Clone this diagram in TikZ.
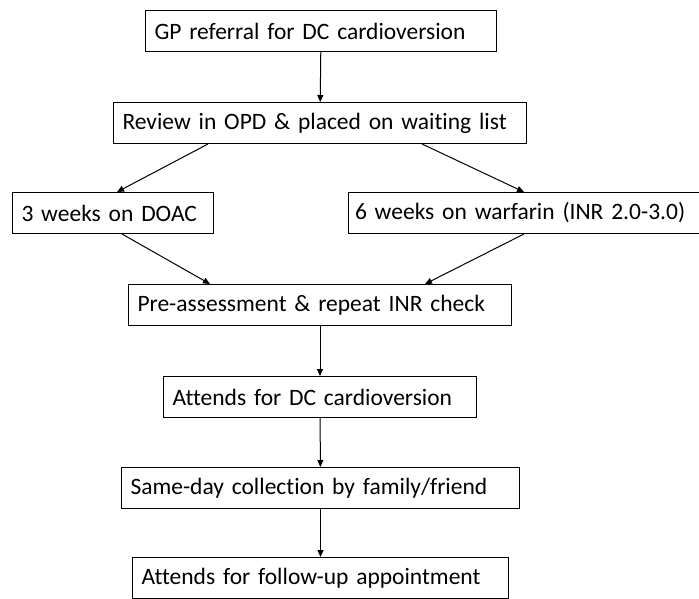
\documentclass[tikz,border=0pt]{standalone}
\usepackage{fontspec}
\setmainfont{Carlito}[Ligatures=NoCommon]
\usetikzlibrary{arrows.meta}
\tikzset{
	box/.style={draw, line width=1pt, anchor=west, align=left, inner xsep=9pt, inner ysep=2pt, minimum height=41pt, font=\fontsize{23.5}{28}\selectfont},
	arr/.style={line width=1pt, -{Triangle[length=7pt,width=6pt]}}
}
\begin{document}
			\begin{tikzpicture}[x=1pt,y=-1pt]
				\useasboundingbox (0,0) rectangle (699,599);
				\node[box, text width=333pt] (gp) at (145,31) {GP referral for DC cardioversion};
				\node[box, text width=395pt] (opd) at (113,123) {Review in OPD \& placed on waiting list};
				\node[box, text width=183pt] (doac) at (12,213) {3 weeks on DOAC};
				\node[box, text width=338pt, inner xsep=6.5pt] (warf) at (348,213) {6 weeks on warfarin (INR 2.0-3.0)};
				\node[box, text width=365pt] (pre) at (128,305) {Pre-assessment \& repeat INR check};
				\node[box, text width=295pt] (dc) at (163,397) {Attends for DC cardioversion};
				\node[box, text width=380pt] (coll) at (121,488) {Same-day collection by family/friend};
				\node[box, text width=358pt] (fup) at (132,578) {Attends for follow-up appointment};
				\draw[arr] (gp) -- (opd);
				\draw[arr] ([xshift=-112pt]opd.south) -- ([xshift=4pt]doac.north);
				\draw[arr] ([xshift=102pt]opd.south) -- (warf.north);
				\draw[arr] ([xshift=9pt]doac.south) -- ([xshift=-110pt]pre.north);
				\draw[arr] (warf.south) -- ([xshift=105pt]pre.north);
				\draw[arr] (pre) -- (dc);
				\draw[arr] (dc) -- (coll);
				\draw[arr] (coll) -- (fup);
			\end{tikzpicture}
\end{document}
